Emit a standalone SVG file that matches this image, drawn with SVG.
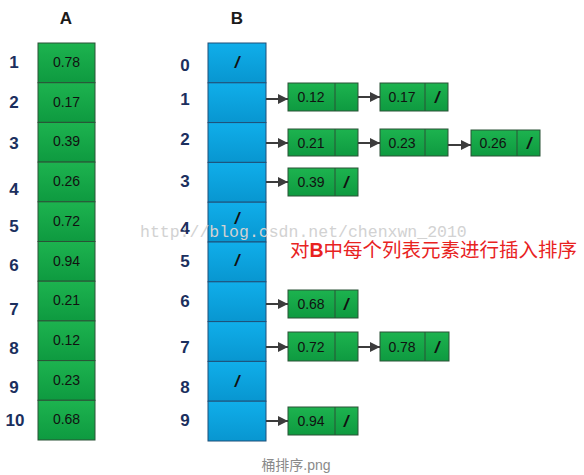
<svg xmlns="http://www.w3.org/2000/svg" width="584" height="475" viewBox="0 0 584 475">
<defs>
<linearGradient id="gG" x1="0" y1="0" x2="0" y2="1"><stop offset="0" stop-color="#1db34f"/><stop offset="1" stop-color="#0e9a40"/></linearGradient>
<linearGradient id="bG" x1="0" y1="0" x2="0" y2="1"><stop offset="0" stop-color="#10aeea"/><stop offset="1" stop-color="#0896d0"/></linearGradient>
<marker id="ah" viewBox="0 0 10 10" refX="10" refY="5" markerWidth="5" markerHeight="5" orient="auto" markerUnits="strokeWidth"><path d="M0,0 L10,5 L0,10 z" fill="#3c3c3c"/></marker>
</defs>
<style>
.lab{font-family:"Liberation Sans",Arial,sans-serif;font-weight:bold;font-size:17px;fill:#1b2f5e;text-anchor:middle}
.ttl{font-family:"Liberation Sans",Arial,sans-serif;font-weight:bold;font-size:17px;fill:#1a1a1a;text-anchor:middle}
.g{fill:url(#gG);stroke:#2a5236;stroke-width:1}
.b{fill:url(#bG);stroke:#1f4f78;stroke-width:1}
.v{font-family:"Liberation Sans",Arial,sans-serif;font-size:14px;fill:#111;text-anchor:middle}
.sl{font-family:"Liberation Sans",Arial,sans-serif;font-weight:bold;font-style:italic;font-size:17px;fill:#111;text-anchor:middle}
.dv{stroke:#2a5236;stroke-width:1}
.ar{stroke:#3c3c3c;stroke-width:2;fill:none;marker-end:url(#ah)}
</style>
<rect width="584" height="475" fill="#ffffff"/>
<text class="ttl" x="66" y="24">A</text>
<text class="ttl" x="237" y="24">B</text>
<g id="A">
<rect class="g" x="38" y="43" width="57" height="39.7"/>
<rect class="g" x="38" y="82.7" width="57" height="39.7"/>
<rect class="g" x="38" y="122.4" width="57" height="39.7"/>
<rect class="g" x="38" y="162.1" width="57" height="39.7"/>
<rect class="g" x="38" y="201.8" width="57" height="39.7"/>
<rect class="g" x="38" y="241.5" width="57" height="39.7"/>
<rect class="g" x="38" y="281.2" width="57" height="39.7"/>
<rect class="g" x="38" y="320.9" width="57" height="39.7"/>
<rect class="g" x="38" y="360.6" width="57" height="39.7"/>
<rect class="g" x="38" y="400.3" width="57" height="39.7"/>
<text class="v" x="66.5" y="67">0.78</text>
<text class="v" x="66.5" y="106.7">0.17</text>
<text class="v" x="66.5" y="146.4">0.39</text>
<text class="v" x="66.5" y="186.1">0.26</text>
<text class="v" x="66.5" y="225.8">0.72</text>
<text class="v" x="66.5" y="265.5">0.94</text>
<text class="v" x="66.5" y="305.2">0.21</text>
<text class="v" x="66.5" y="344.9">0.12</text>
<text class="v" x="66.5" y="384.6">0.23</text>
<text class="v" x="66.5" y="424.3">0.68</text>
<text class="lab" x="14" y="68">1</text>
<text class="lab" x="14" y="108">2</text>
<text class="lab" x="14" y="149">3</text>
<text class="lab" x="14" y="195">4</text>
<text class="lab" x="14" y="232">5</text>
<text class="lab" x="14" y="271">6</text>
<text class="lab" x="14" y="315">7</text>
<text class="lab" x="14" y="354">8</text>
<text class="lab" x="14" y="393">9</text>
<text class="lab" x="15" y="426">10</text>
</g>
<g id="B">
<rect class="b" x="208" y="43" width="58" height="39.8"/>
<rect class="b" x="208" y="82.8" width="58" height="39.8"/>
<rect class="b" x="208" y="122.6" width="58" height="39.8"/>
<rect class="b" x="208" y="162.4" width="58" height="39.8"/>
<rect class="b" x="208" y="202.2" width="58" height="39.8"/>
<rect class="b" x="208" y="242" width="58" height="39.8"/>
<rect class="b" x="208" y="281.8" width="58" height="39.8"/>
<rect class="b" x="208" y="321.6" width="58" height="39.8"/>
<rect class="b" x="208" y="361.4" width="58" height="39.8"/>
<rect class="b" x="208" y="401.2" width="58" height="39.8"/>
<text class="sl" x="237" y="68">/</text>
<text class="sl" x="237" y="224">/</text>
<text class="sl" x="237" y="266">/</text>
<text class="sl" x="237" y="387">/</text>
<text class="lab" x="185" y="71">0</text>
<text class="lab" x="185" y="105">1</text>
<text class="lab" x="185" y="145">2</text>
<text class="lab" x="185" y="187">3</text>
<text class="lab" x="185" y="234">4</text>
<text class="lab" x="185" y="267">5</text>
<text class="lab" x="185" y="307">6</text>
<text class="lab" x="185" y="353">7</text>
<text class="lab" x="185" y="393">8</text>
<text class="lab" x="185" y="426">9</text>
</g>
<g id="n1a"><rect class="g" x="288" y="83" width="70" height="28"/><line class="dv" x1="335" y1="83" x2="335" y2="111"/><text class="v" x="311" y="102">0.12</text></g>
<g id="n1b"><rect class="g" x="380" y="83" width="68" height="28"/><line class="dv" x1="425" y1="83" x2="425" y2="111"/><text class="v" x="402" y="102">0.17</text><text class="sl" x="437" y="103">/</text></g>
<g id="n2a"><rect class="g" x="288" y="129" width="70" height="27"/><line class="dv" x1="335" y1="129" x2="335" y2="156"/><text class="v" x="311" y="147.5">0.21</text></g>
<g id="n2b"><rect class="g" x="380" y="129" width="68" height="27"/><line class="dv" x1="425" y1="129" x2="425" y2="156"/><text class="v" x="402" y="147.5">0.23</text></g>
<g id="n2c"><rect class="g" x="471" y="130" width="69" height="26"/><line class="dv" x1="517" y1="130" x2="517" y2="156"/><text class="v" x="493" y="148">0.26</text><text class="sl" x="529" y="149">/</text></g>
<g id="n3"><rect class="g" x="288" y="168" width="70" height="28"/><line class="dv" x1="335" y1="168" x2="335" y2="196"/><text class="v" x="311" y="187">0.39</text><text class="sl" x="346" y="188">/</text></g>
<g id="n6"><rect class="g" x="288" y="290" width="70" height="28"/><line class="dv" x1="335" y1="290" x2="335" y2="318"/><text class="v" x="311" y="309">0.68</text><text class="sl" x="346" y="310">/</text></g>
<g id="n7a"><rect class="g" x="288" y="332" width="70" height="29"/><line class="dv" x1="335" y1="332" x2="335" y2="361"/><text class="v" x="311" y="351.5">0.72</text></g>
<g id="n7b"><rect class="g" x="380" y="332" width="69" height="29"/><line class="dv" x1="425" y1="332" x2="425" y2="361"/><text class="v" x="402" y="351.5">0.78</text><text class="sl" x="437" y="353">/</text></g>
<g id="n9"><rect class="g" x="288" y="407" width="70" height="28"/><line class="dv" x1="335" y1="407" x2="335" y2="435"/><text class="v" x="311" y="426">0.94</text><text class="sl" x="346" y="427">/</text></g>
<g id="connectors">
<line class="ar" x1="266" y1="99" x2="288" y2="99"/>
<line class="ar" x1="358" y1="97" x2="380" y2="97"/>
<line class="ar" x1="266" y1="143" x2="288" y2="143"/>
<line class="ar" x1="358" y1="143" x2="380" y2="143"/>
<line class="ar" x1="448" y1="145" x2="471" y2="145"/>
<line class="ar" x1="266" y1="182" x2="288" y2="182"/>
<line class="ar" x1="266" y1="304" x2="288" y2="304"/>
<line class="ar" x1="266" y1="347" x2="288" y2="347"/>
<line class="ar" x1="358" y1="347" x2="380" y2="347"/>
<line class="ar" x1="266" y1="421" x2="288" y2="421"/>
</g>
<text x="140" y="237" font-family="'Liberation Mono',monospace" font-size="16.5" fill="#d2d2d2">http://blog.csdn.net/chenxwn_2010</text>
<text x="290" y="257" font-family="'Liberation Sans','Noto Sans CJK SC',sans-serif" font-size="19.5" fill="#e8231f">对<tspan font-weight="bold">B</tspan>中每个列表元素进行插入排序</text>
<text x="296" y="470" text-anchor="middle" font-family="'Liberation Sans','Noto Sans CJK SC',sans-serif" font-size="14" fill="#8a8a8a">桶排序.png</text>
</svg>
